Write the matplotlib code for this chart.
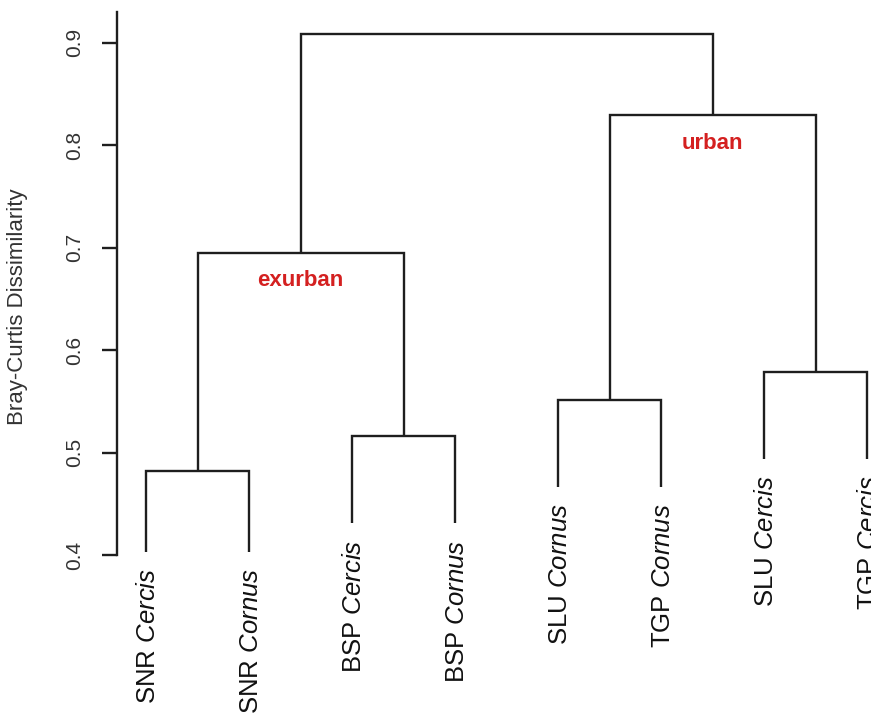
import numpy as np
import matplotlib
matplotlib.use("Agg")
import matplotlib.pyplot as plt

plt.rcParams['font.family'] = ['Liberation Sans', 'DejaVu Sans']
plt.rcParams['mathtext.fontset'] = 'custom'
plt.rcParams['mathtext.rm'] = 'Liberation Sans'
plt.rcParams['mathtext.it'] = 'Liberation Sans:italic'

# ---- data ----
leaf_sites = ['SNR', 'SNR', 'BSP', 'BSP', 'SLU', 'TGP', 'SLU', 'TGP']
leaf_genus = ['Cercis', 'Cornus', 'Cercis', 'Cornus', 'Cornus', 'Cornus', 'Cercis', 'Cercis']
# R-style merge matrix: negative = leaf (1-based), positive = earlier merge step
merge_left = [-1, -3, 1, -5, -7, 4, 3]
merge_right = [-2, -4, 2, -6, -8, 5, 6]
merge_height = [0.482, 0.516, 0.695, 0.551, 0.579, 0.829, 0.909]
group_names = ['exurban', 'urban']
group_steps = [3, 6]
y_ticks = [0.4, 0.5, 0.6, 0.7, 0.8, 0.9]

# ---- style ----
hang = 0.085
floor = 0.403
line_color = '#1e1e1e'
lw = 1.7

fig = plt.figure(figsize=(8.71, 7.13), dpi=100)
ax = fig.add_axes([117/871, (713-555)/713, 1 - 117/871, (555-12)/713])

n = len(leaf_sites)
leaf_x = np.arange(1, n + 1, dtype=float)
leaf_bottom = {}
node_x = {}
node_y = {}

def child_info(c, h):
    if c < 0:
        x = leaf_x[-c - 1]
        y = max(h - hang, floor)
        leaf_bottom[-c - 1] = y
        return x, y
    return node_x[c], node_y[c]

for step, (l, r, h) in enumerate(zip(merge_left, merge_right, merge_height), start=1):
    xl, yl = child_info(l, h)
    xr, yr = child_info(r, h)
    ax.plot([xl, xl, xr, xr], [yl, h, h, yr], color=line_color, lw=lw,
            solid_joinstyle='miter', solid_capstyle='butt', clip_on=False)
    node_x[step] = (xl + xr) / 2
    node_y[step] = h

for i in range(n):
    ax.text(leaf_x[i] - 0.005, leaf_bottom[i] - 0.016,
            f"{leaf_sites[i]} $\\mathit{{{leaf_genus[i]}}}$",
            rotation=90, rotation_mode='anchor', ha='right', va='center_baseline',
            fontsize=18.5, color='#111111', clip_on=False)

for name, st in zip(group_names, group_steps):
    ax.text(node_x[st], node_y[st] - 0.027, name, color='#d42020',
            fontsize=16, fontweight='bold', ha='center', va='center')

ax.set_xlim(1 - 29/103, n + 4/103)
ax.set_ylim(0.4, 0.930)
for s in ['top', 'right', 'bottom']:
    ax.spines[s].set_visible(False)
ax.spines['left'].set_linewidth(lw)
ax.spines['left'].set_color(line_color)
ax.set_xticks([])
ax.set_yticks(y_ticks)
ax.set_yticklabels([f"{t:.1f}" for t in y_ticks], rotation=90, va='center',
                   fontsize=15, color='#333333')
ax.tick_params(axis='y', length=11, width=lw, color=line_color, pad=13)
ax.patch.set_alpha(0)

fig.text(18/871, 1 - 307/713, 'Bray-Curtis Dissimilarity', rotation=90,
         ha='center', va='center', fontsize=16, color='#333333')

fig.savefig('out.png', dpi=100, facecolor='white')
